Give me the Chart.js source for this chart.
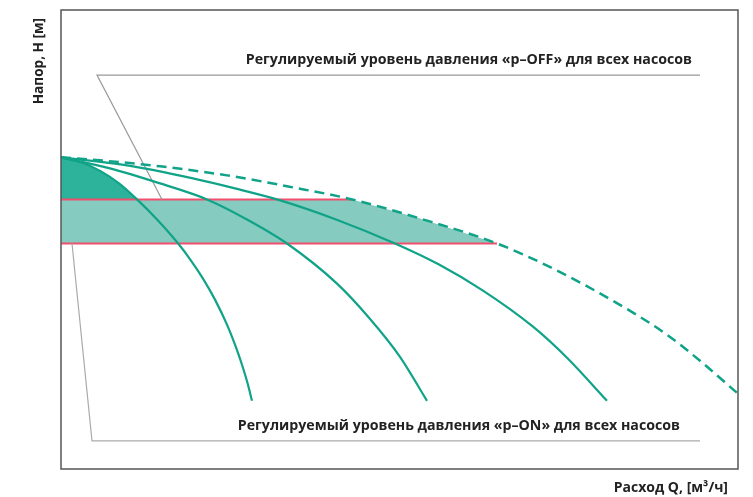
<!DOCTYPE html>
<html>
<head>
<meta charset="utf-8">
<script src="https://cdn.jsdelivr.net/npm/chart.js@4.4.1/dist/chart.umd.min.js"></script>
<style>
  html,body{margin:0;padding:0;background:#fff;}
  #wrap{width:753px;height:497px;}
</style>
</head>
<body>
<div id="wrap"><canvas id="pumpChart" width="753" height="497"></canvas></div>
<script>
// pump curves, Q (flow) vs H (head)
const curve1Q = [0, 2, 4, 5.8, 7.6, 9.7, 11.8, 13.0, 14.2, 15.4, 16.6, 17.4, 18.1, 18.7, 19.1];
const curve1H = [31.1, 30.6, 29.7, 28.5, 26.9, 24.8, 22.4, 20.8, 19.0, 16.9, 14.4, 12.4, 10.4, 8.4, 6.8];

const curve2Q = [0, 4.9, 9.9, 14.6, 18.6, 22.6, 27.6, 30.8, 33.9, 36.6];
const curve2H = [31.1, 30.0, 28.5, 26.9, 24.9, 22.5, 18.5, 15.1, 11.2, 6.8];

const curve3Q = [0, 6.6, 13.2, 17.4, 21.6, 27.5, 33.4, 37.8, 42.2, 47.2, 50.6, 54.6];
const curve3H = [31.1, 30.3, 29.0, 28.0, 26.9, 24.9, 22.5, 20.4, 17.8, 14.2, 11.1, 6.8];

// envelope (all pumps), dashed
const envQ = [0, 3.9, 9.9, 16.6, 23.2, 29.1, 35.9, 43.6, 49.2, 56.2, 60.6, 63.9, 67.6];
const envH = [31.1, 30.8, 30.2, 29.3, 28.1, 26.9, 25.0, 22.5, 20.0, 16.2, 13.4, 10.8, 7.6];

// p-OFF / p-ON band
const pOff = 26.9;
const pOn = 22.5;
const bandTopQ = [0, 29.1, 35.9, 43.6];
const bandTopH = [pOff, pOff, 25.0, pOn];
const bandBottomQ = [0, 43.6];

// dark area under first pump curve above p-OFF
const firstQ = curve1Q.slice(0, 5);
const firstH = curve1H.slice(0, 5);

// callout leader lines
const offLeaderQ = [10.1, 3.6, 63.9];
const offLeaderH = [pOff, 39.3, 39.3];
const onLeaderQ = [1.1, 3.1, 63.9];
const onLeaderH = [pOn, 2.8, 2.8];

const labelOff = "Регулируемый уровень давления «p–OFF» для всех насосов";
const labelOn = "Регулируемый уровень давления «p–ON» для всех насосов";
const titleY = "Напор, H [м]";
const titleX = "Расход Q, [м³/ч]";

const TEAL = "#10a388";
const PINK = "#f0506e";
const pts = (xs, ys) => xs.map((x, i) => ({x, y: ys[i]}));

const curveDs = (xs, ys) => ({
  data: pts(xs, ys), borderColor: TEAL, borderWidth: 2.2, pointRadius: 0,
  cubicInterpolationMode: "monotone", fill: false, order: 1
});

// texts + frame
const frame = {
  id: "frame",
  afterDraw(chart){
    const {ctx, chartArea: a, scales} = chart;
    ctx.save();
    ctx.strokeStyle = "#555";
    ctx.lineWidth = 1.5;
    ctx.strokeRect(a.left, a.top, a.right - a.left, a.bottom - a.top);
    ctx.fillStyle = "#222";
    ctx.font = "bold 14.2px 'Open Sans'";
    ctx.textAlign = "right";
    ctx.textBaseline = "alphabetic";
    const xr = scales.x.getPixelForValue(63.1);
    ctx.fillText(labelOff, xr, scales.y.getPixelForValue(39.3) - 11);
    ctx.fillText(labelOn, xr - 12, scales.y.getPixelForValue(2.8) - 11);
    ctx.font = "bold 14px 'Open Sans'";
    ctx.fillText(titleX, 728, 492);
    ctx.font = "bold 13.6px 'Open Sans'";
    ctx.translate(43, 18);
    ctx.rotate(-Math.PI / 2);
    ctx.fillText(titleY, 0, 0);
    ctx.restore();
  }
};

new Chart(document.getElementById("pumpChart"), {
  type: "line",
  data: {
    datasets: [
      {...curveDs(envQ, envH), borderDash: [10, 6], borderWidth: 2.5},
      curveDs(curve3Q, curve3H),
      curveDs(curve2Q, curve2H),
      curveDs(curve1Q, curve1H),
      {
        data: pts(bandTopQ, bandTopH), pointRadius: 0, borderWidth: 2,
        segment: {borderColor: c => c.p0.parsed.y === c.p1.parsed.y ? PINK : "rgba(0,0,0,0)"},
        backgroundColor: "#86cbbf", fill: {value: pOn}, order: 3
      },
      {
        data: pts(bandBottomQ, [pOn, pOn]), pointRadius: 0, borderWidth: 2,
        borderColor: PINK, fill: false, order: 3
      },
      {
        data: pts(firstQ, firstH), pointRadius: 0, borderWidth: 0,
        cubicInterpolationMode: "monotone",
        backgroundColor: "#2db39b", fill: {value: pOff}, order: 4
      },
      {
        data: pts(offLeaderQ, offLeaderH), pointRadius: 0, borderWidth: 1.2,
        borderColor: "#999", fill: false, order: 2
      },
      {
        data: pts(onLeaderQ, onLeaderH), pointRadius: 0, borderWidth: 1.2,
        borderColor: "#aaa", fill: false, order: 2
      }
    ]
  },
  options: {
    responsive: false,
    animation: false,
    layout: {padding: {left: 61, right: 15, top: 10, bottom: 28}},
    scales: {
      x: {type: "linear", min: 0, max: 67.7, display: false},
      y: {type: "linear", min: 0, max: 45.8, display: false}
    },
    plugins: {
      legend: {display: false},
      tooltip: {enabled: false},
      filler: {drawTime: "beforeDatasetsDraw"}
    }
  },
  plugins: [frame]
});
</script>
</body>
</html>
